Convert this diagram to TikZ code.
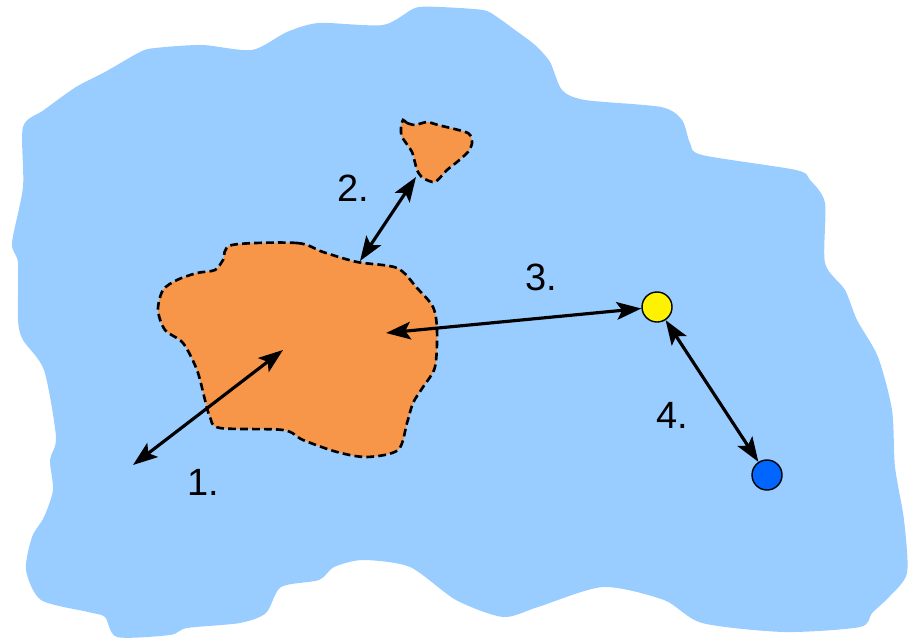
\documentclass[tikz,border=0pt]{standalone}
\usepackage{fontspec}
\setmainfont{Liberation Sans}
\usetikzlibrary{arrows.meta, positioning}

\definecolor{water}{RGB}{153,204,255}
\definecolor{land}{RGB}{247,150,72}
\definecolor{site}{RGB}{0,102,255}

\tikzset{
    island/.style={fill=land, draw=black, line width=0.75pt, dash pattern=on 2.2pt off 1.2pt},
    dist/.style={{Stealth[length=7pt,width=5pt,inset=1.5pt]}-{Stealth[length=7pt,width=5pt,inset=1.5pt]}, line width=0.9pt},
    spot/.style={circle, draw=black, line width=0.4pt, minimum size=0.3cm, inner sep=0pt},
    tag/.style={font=\fontsize{10.8}{12}\selectfont, inner sep=0pt}
}

\begin{document}
\begin{tikzpicture}[x=0.01cm, y=-0.01cm]
        \useasboundingbox (0,0) rectangle (913,640);

        % lake
        \fill[water] plot[smooth cycle, tension=0.45] coordinates {
            (23,127) (44,110) (76,87) (105,72) (140,52) (155,48) (202,45) (252,50)
            (287,32) (319,23) (383,25) (415,8) (439,7) (483,10) (497,17) (515,30)
            (535,45) (550,62) (562,90) (585,100) (661,107) (682,120) (690,143) (702,155)
            (796,170) (810,180) (825,203) (825,263) (845,290) (857,320) (878,357) (892,410)
            (895,467) (904,520) (907,573) (889,597) (872,613) (860,627) (784,632) (702,623)
            (664,600) (603,587) (538,607) (503,617) (456,600) (410,567) (363,560) (334,567)
            (319,580) (281,587) (266,613) (240,623) (187,628) (170,635) (117,637) (105,617)
            (88,612) (41,600) (26,570) (32,537) (44,517) (53,490) (50,460) (56,437)
            (44,370) (23,340) (18,320) (18,263) (12,243) (23,187)};

        % islands
        \draw[island] plot[smooth cycle, tension=0.5] coordinates {
            (232,245) (297,243) (323,252) (357,262) (397,268) (417,288) (433,307) (437,330)
            (435,367) (423,387) (413,403) (407,423) (398,450) (367,457) (337,452) (303,440)
            (283,430) (220,428) (210,417) (205,400) (197,370) (183,343) (165,330) (158,310)
            (163,290) (177,280) (197,273) (215,270) (223,260)};
        \draw[island] plot[smooth cycle, tension=0.4] coordinates {
            (403,120) (407,123) (415,125) (427,122) (438,125) (468,133) (472,143) (468,152)
            (457,162) (447,170) (435,182) (423,178) (417,170) (412,152) (402,137) (401,128)};

        \node[spot, fill=yellow](y) at (657,307){};
        \node[spot, fill=site](b) at (767,475){};

        \coordinate (p1) at (133,465);
        \coordinate (c1) at (283,350);
        \coordinate (s2) at (360,261);
        \coordinate (e2) at (416,177);
        \coordinate (c3) at (386,333);

        \draw[dist] (p1) -- (c1);
        \draw[dist] (s2) -- (e2);
        \draw[dist] (c3) -- (y);
        \draw[dist] (y) -- (b);

        \node[tag](l1) at (203,482){1.};
        \node[tag](l2) at (353,188){2.};
        \node[tag](l3) at (541,277){3.};
        \node[tag](l4) at (672,415){4.};
    \end{tikzpicture}
\end{document}
